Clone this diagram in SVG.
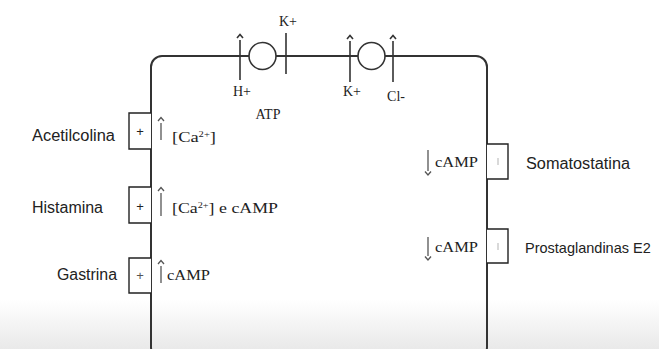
<svg xmlns="http://www.w3.org/2000/svg" width="659" height="349" viewBox="0 0 659 349">
<defs>
<linearGradient id="bg" x1="0" y1="0" x2="0" y2="1">
<stop offset="0" stop-color="#ffffff"/>
<stop offset="1" stop-color="#e9e9e9"/>
</linearGradient>
<style>
.cell{fill:none;stroke:#333;stroke-width:2}
.bar{stroke:#333;stroke-width:1.6;fill:none}
.pump{fill:#fff;stroke:#333;stroke-width:1.6}
.box{fill:#fff;stroke:#222;stroke-width:1.4}
.arr{stroke:#555;stroke-width:1.3;fill:none}
.lbl{font-family:"Liberation Sans",Arial,sans-serif;font-size:16px;fill:#222}
.ser{font-family:"Liberation Serif","Times New Roman",serif;font-size:14px;fill:#222}
.sm{font-family:"Liberation Sans",Arial,sans-serif;font-size:13px;fill:#222}
</style>
</defs>
<rect x="0" y="0" width="659" height="349" fill="#fff"/>
<rect x="0" y="300" width="659" height="49" fill="url(#bg)"/>

<g id="cell">
<rect class="cell" x="151" y="56" width="336" height="302" rx="11"/>
</g>

<g id="pump1">
<circle class="pump" cx="262.5" cy="56" r="13.5"/>
<line class="bar" x1="240" y1="40" x2="240" y2="80"/>
<polyline class="bar" points="237,38 240,34.5 243,38" stroke-width="1.1"/>
<line class="bar" x1="286" y1="33" x2="286" y2="74"/>
<text class="ser" x="288" y="26" text-anchor="middle">K+</text>
<text class="ser" x="242" y="96" text-anchor="middle">H+</text>
<text class="ser" x="268" y="119" text-anchor="middle">ATP</text>
</g>

<g id="pump2">
<circle class="pump" cx="371.5" cy="56" r="13.5"/>
<line class="bar" x1="350" y1="41" x2="350" y2="82"/>
<polyline class="bar" points="347,39 350,35.5 353,39" stroke-width="1.1"/>
<line class="bar" x1="393" y1="41" x2="393" y2="82"/>
<polyline class="bar" points="390,39 393,35.5 396,39" stroke-width="1.1"/>
<text class="ser" x="352" y="96" text-anchor="middle">K+</text>
<text class="ser" x="396" y="101" text-anchor="middle">Cl-</text>
</g>

<g id="acetilcolina">
<path class="box" d="M151,113 H129 V149 H151"/>
<text class="sm" x="140" y="136" text-anchor="middle">+</text>
<text class="lbl" x="32" y="141" textLength="83" lengthAdjust="spacingAndGlyphs">Acetilcolina</text>
<polyline class="arr" points="158,121 161,117.5 164,121" stroke-width="1"/>
<line class="arr" x1="161" y1="123" x2="161" y2="140"/>
<text class="ser" x="172" y="142" textLength="44" lengthAdjust="spacingAndGlyphs">[Ca<tspan font-size="8" dy="-5">2+</tspan><tspan dy="5">]</tspan></text>
</g>

<g id="histamina">
<path class="box" d="M151,187 H129 V223 H151"/>
<text class="sm" x="140" y="211" text-anchor="middle">+</text>
<text class="lbl" x="32" y="213" textLength="71" lengthAdjust="spacingAndGlyphs">Histamina</text>
<polyline class="arr" points="158,191 161,187.5 164,191" stroke-width="1"/>
<line class="arr" x1="161" y1="193" x2="161" y2="216"/>
<text class="ser" x="172" y="213" textLength="106" lengthAdjust="spacingAndGlyphs">[Ca<tspan font-size="8" dy="-5">2+</tspan><tspan dy="5">] e cAMP</tspan></text>
</g>

<g id="gastrina">
<path class="box" d="M151,258 H129 V293 H151"/>
<text class="sm" x="140" y="280" text-anchor="middle" style="fill:#555">+</text>
<text class="lbl" x="57" y="280" textLength="60" lengthAdjust="spacingAndGlyphs">Gastrina</text>
<polyline class="arr" points="158,264 161,260.5 164,264" stroke-width="1"/>
<line class="arr" x1="161" y1="266" x2="161" y2="283"/>
<text class="ser" x="167" y="280" textLength="43" lengthAdjust="spacingAndGlyphs">cAMP</text>
</g>

<g id="somatostatina">
<path class="box" d="M487,144 H508 V179 H487"/>
<line x1="498" y1="158" x2="498" y2="165" stroke="#ccc" stroke-width="1.5"/>
<text class="lbl" x="526" y="169" textLength="104" lengthAdjust="spacingAndGlyphs">Somatostatina</text>
<line class="arr" x1="428" y1="150" x2="428" y2="171"/>
<polyline class="arr" points="425,171.5 428,175 431,171.5" stroke-width="1"/>
<text class="ser" x="435" y="167" textLength="43" lengthAdjust="spacingAndGlyphs">cAMP</text>
</g>

<g id="prostaglandinas">
<path class="box" d="M487,229 H508 V263 H487"/>
<line x1="498" y1="243" x2="498" y2="250" stroke="#ccc" stroke-width="1.5"/>
<text class="lbl" x="525" y="253" style="font-size:14.5px">Prostaglandinas E2</text>
<line class="arr" x1="428" y1="237" x2="428" y2="256"/>
<polyline class="arr" points="425,256.5 428,260 431,256.5" stroke-width="1"/>
<text class="ser" x="435" y="252" textLength="43" lengthAdjust="spacingAndGlyphs">cAMP</text>
</g>
</svg>
